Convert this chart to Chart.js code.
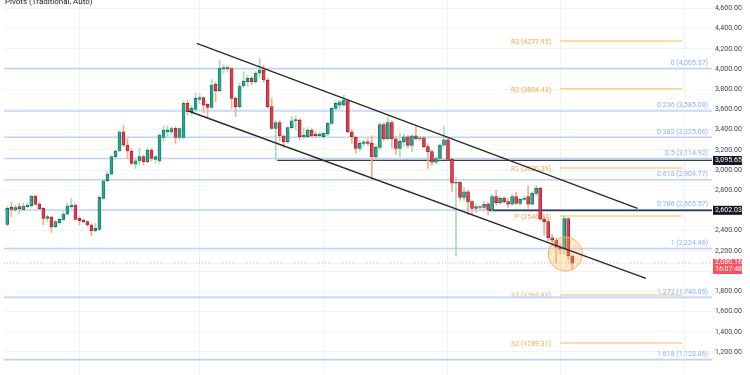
<!DOCTYPE html>
<html lang="en">
<head>
<meta charset="UTF-8" />
<title>Pivots (Traditional, Auto)</title>
<script src="https://cdn.jsdelivr.net/npm/chart.js"></script>
<style>
  html, body { margin: 0; padding: 0; background: #fff; }
  #wrap { width: 750px; height: 375px; position: relative; }
</style>
</head>
<body>
<div id="wrap"><canvas id="chart"></canvas></div>
<script>
// daily candles, index 0 = first bar on the left
const opens = [2463,2631,2605,2638,2605,2638,2645,2744,2664,2621,2523,2532,2440,2480,2506,2565,2638,2655,2523,2506,
  2490,2457,2400,2414,2720,2895,2961,3133,3189,3380,3248,3189,3060,3090,3133,3084,3199,3107,3090,3324,
  3380,3377,3413,3324,3324,3661,3578,3602,3700,3717,3651,3621,3849,3786,4000,4014,4005,3710,3628,3833,
  3875,3908,3875,3960,3991,3892,3628,3413,3470,3338,3281,3420,3490,3496,3330,3331,3397,3358,3338,3331,
  3358,3463,3611,3644,3644,3687,3380,3324,3216,3265,3281,3265,3133,3225,3450,3310,3470,3310,3215,3280,
  3330,3245,3340,3310,3320,3232,3183,3078,3115,3248,3300,3107,2870,2880,2730,2786,2688,2622,2638,2630,
  2664,2605,2737,2678,2720,2688,2664,2737,2671,2710,2737,2664,2770,2819,2515,2490,2330,2307,2237,2217,
  2520,2150];
const highs = [2640,2678,2655,2671,2671,2671,2753,2753,2678,2631,2556,2546,2500,2523,2588,2671,2720,2661,2539,2513,
  2500,2466,2473,2744,2909,2985,3140,3199,3390,3446,3314,3215,3116,3215,3149,3220,3215,3140,3360,3437,
  3440,3430,3430,3420,3680,3694,3640,3767,3760,3727,3660,3899,3870,4090,4040,4030,4018,3727,3859,3974,
  3940,3925,3980,4107,4040,3910,3710,3490,3490,3350,3430,3530,3535,3512,3420,3420,3410,3380,3375,3370,
  3470,3620,3677,3690,3743,3700,3400,3335,3290,3300,3310,3340,3250,3470,3470,3525,3490,3340,3364,3360,
  3345,3350,3430,3340,3335,3260,3200,3130,3260,3437,3320,3120,2925,2890,2825,2800,2700,2660,2650,2690,
  2680,2760,2800,2740,2740,2720,2760,2780,2720,2740,2845,2780,2850,2830,2550,2530,2365,2330,2275,2550,
  2525,2160];
const lows = [2447,2540,2588,2572,2598,2631,2638,2655,2612,2457,2490,2381,2433,2466,2500,2556,2621,2506,2457,2480,
  2440,2351,2390,2407,2711,2885,2951,3116,3183,3232,3116,3050,3017,3060,3050,3070,3090,3070,3070,3282,
  3338,3350,3265,3300,3310,3545,3545,3590,3660,3569,3512,3611,3677,3776,3960,3980,3611,3529,3611,3820,
  3830,3842,3860,3920,3870,3611,3404,3100,3290,3220,3260,3413,3397,3298,3310,3320,3330,3320,3320,3310,
  3340,3450,3595,3610,3630,3370,3265,3166,3190,3240,3245,2920,3100,3205,3290,3300,3216,3150,3133,3240,
  3220,3180,3300,3290,3220,3017,3050,3060,3100,3230,3100,2790,2150,2700,2700,2560,2560,2580,2600,2590,
  2560,2585,2650,2660,2670,2630,2650,2660,2650,2700,2620,2650,2750,2505,2357,2300,2250,2077,2170,2170,
  2110,2010];
const closes = [2621,2612,2628,2618,2645,2655,2744,2661,2618,2523,2539,2440,2490,2513,2565,2645,2655,2513,2500,2490,
  2457,2400,2423,2730,2895,2961,3133,3189,3380,3248,3189,3067,3093,3133,3084,3199,3116,3133,3348,3397,
  3400,3410,3324,3410,3661,3578,3612,3710,3717,3644,3621,3843,3786,4008,4014,4005,3710,3628,3833,3882,
  3908,3875,3960,3991,3892,3628,3413,3470,3338,3281,3420,3489,3500,3331,3345,3397,3338,3338,3358,3364,
  3463,3611,3661,3677,3694,3380,3331,3215,3265,3281,3265,3133,3225,3450,3310,3470,3310,3215,3285,3330,
  3245,3340,3310,3320,3232,3183,3078,3115,3248,3300,3107,2870,2880,2730,2786,2688,2622,2638,2630,2664,
  2605,2737,2678,2720,2688,2664,2737,2671,2710,2720,2664,2770,2819,2515,2490,2330,2307,2237,2217,2520,
  2150,2080.16];

const monthStarts = [18, 48, 79, 110, 138, 169];
const yTicks = [1200,1400,1600,1800,2000,2200,2400,2600,2800,3000,3200,3400,3600,3800,4000,4200,4400,4600];

const fibRatios = ['0','0.236','0.382','0.5','0.618','0.786','1','1.272','1.618'];
const fibLevels = [4005.37,3585.08,3325.06,3114.92,2904.77,2605.57,2224.46,1740.05,1123.86];

const pivotNames = ['R3','R2','R1','P','S1','S2'];
const pivotLevels = [4277.95,3804.43,3020.39,2546.87,1762.83,1289.31];
const pivotSpan = [138, 168.4];

const channelUpper = [{x:47.3,y:4255},{x:157.3,y:2622}];
const channelLower = [{x:45.2,y:3585},{x:159.4,y:1929}];

const rayLevels = [3095.65, 2602.03];
const rayStarts = [67.4, 120.2];

const lastPrice = 2080.16;
const lastTime = '16:07:48';
const circleMark = [{x:139.3, y:2169}];

const X_MIN = -0.82, X_MAX = 175.9, Y_MIN = 972, Y_MAX = 4684;

const fmt = v => v.toLocaleString('en-US', {minimumFractionDigits:2, maximumFractionDigits:2});
const idx = opens.map((_, i) => i);
const isUp = i => closes[i] >= opens[i];

const datasets = [];

fibLevels.forEach(lv => datasets.push({
  type:'line', data:[{x:X_MIN,y:lv},{x:X_MAX,y:lv}],
  borderColor:'#bcd4f8', borderWidth:1.6, pointRadius:0, order:20
}));
pivotLevels.forEach(lv => datasets.push({
  type:'line', data:[{x:pivotSpan[0],y:lv},{x:pivotSpan[1],y:lv}],
  borderColor:'#ffcf90', borderWidth:1.5, pointRadius:0, order:19
}));
datasets.push({
  type:'line', data:[{x:X_MIN,y:lastPrice},{x:X_MAX,y:lastPrice}],
  borderColor:'rgba(242,54,69,0.45)', borderWidth:1, borderDash:[1,2], pointRadius:0, order:18
});
rayLevels.forEach((lv, k) => datasets.push({
  type:'line', data:[{x:rayStarts[k],y:lv},{x:X_MAX,y:lv}],
  borderColor: k === 0 ? '#353c50' : '#2c3a5c', borderWidth: k === 0 ? 1.2 : 1.6, pointRadius:0, order:17
}));

// wicks
datasets.push({
  type:'bar', grouped:false, order:6,
  data: idx.map(i => ({x:i, y:[lows[i], highs[i]]})),
  backgroundColor: idx.map(i => isUp(i) ? '#a9dcae' : '#f7ad86'),
  barThickness:1, borderWidth:0
});
// bodies
datasets.push({
  type:'bar', grouped:false, order:5,
  data: idx.map(i => ({x:i, y:[opens[i], closes[i]]})),
  backgroundColor: idx.map(i => isUp(i) ? '#22ab94' : '#f23645'),
  borderColor: idx.map(i => isUp(i) ? '#1d5c52' : '#7d2630'),
  borderWidth:0.7, borderSkipped:false, barThickness:3
});

datasets.push({
  type:'scatter', data: circleMark, pointRadius:17,
  backgroundColor:'rgba(255,183,77,0.3)', borderColor:'#f6b25e', borderWidth:1, order:3
});
datasets.push({type:'line', data:channelUpper, borderColor:'#2a2a2e', borderWidth:1.4, pointRadius:0, order:1});
datasets.push({type:'line', data:channelLower, borderColor:'#2a2a2e', borderWidth:1.4, pointRadius:0, order:1});

const FONT = 'Roboto, "DejaVu Sans", sans-serif';

const labelsPlugin = {
  id:'levelLabels',
  beforeDatasetsDraw(chart) {
    const {ctx, chartArea, scales:{x, y}} = chart;
    ctx.save();
    ctx.font = '7px ' + FONT;
    ctx.textAlign = 'right';
    ctx.textBaseline = 'middle';
    ctx.fillStyle = '#8ab0f2';
    fibLevels.forEach((lv, k) => {
      ctx.fillText(fibRatios[k] + ' (' + fmt(lv) + ')', chartArea.right - 4, y.getPixelForValue(lv) - 5.5);
    });
    ctx.fillStyle = '#f7a845';
    const px = x.getPixelForValue(pivotSpan[0]) - 9;
    pivotLevels.forEach((lv, k) => {
      ctx.fillText(pivotNames[k] + ' (' + lv.toFixed(2) + ')', px, y.getPixelForValue(lv) + 1);
    });
    ctx.restore();
  },
  afterDraw(chart) {
    const {ctx, chartArea, scales:{y}} = chart;
    ctx.save();
    ctx.font = '8px ' + FONT;
    ctx.fillStyle = '#131722';
    ctx.textAlign = 'left';
    ctx.textBaseline = 'alphabetic';
    ctx.fillText('Pivots (Traditional, Auto)', 5, 4);

    const bx = chartArea.right + 1;
    ctx.font = '7px ' + FONT;
    rayLevels.forEach(lv => {
      const py = y.getPixelForValue(lv);
      ctx.fillStyle = '#131722';
      ctx.fillRect(bx, py - 4.5, 29, 9);
      ctx.fillStyle = '#ffffff';
      ctx.textBaseline = 'middle';
      ctx.fillText(fmt(lv), bx + 2, py);
    });
    const py = y.getPixelForValue(lastPrice);
    ctx.fillStyle = '#f7525f';
    ctx.fillRect(bx, py - 4, 29, 15);
    ctx.fillStyle = '#ffffff';
    ctx.fillText(fmt(lastPrice), bx + 2, py - 0.5);
    ctx.fillText(lastTime, bx + 2, py + 6.5);
    ctx.restore();
  }
};

new Chart(document.getElementById('chart'), {
  type:'bar',
  data:{ datasets },
  options:{
    responsive:true, maintainAspectRatio:false, animation:false,
    layout:{ autoPadding:false, padding:{ left:4, top:0, right:0, bottom:0 } },
    plugins:{ legend:{display:false}, tooltip:{enabled:false} },
    scales:{
      x:{
        type:'linear', min:X_MIN, max:X_MAX, offset:false,
        afterBuildTicks: s => { s.ticks = monthStarts.map(v => ({value:v})); },
        afterFit: s => { s.height = 0; s.paddingLeft = 0; s.paddingRight = 0; },
        ticks:{ display:false },
        grid:{ color:'#eef1f6', drawTicks:false, offset:false },
        border:{ display:false }
      },
      y:{
        position:'right', min:Y_MIN, max:Y_MAX,
        afterBuildTicks: s => { s.ticks = yTicks.map(v => ({value:v})); },
        afterFit: s => { s.width = 38; s.paddingTop = 0; s.paddingBottom = 0; },
        ticks:{
          font:{ size:7, family:FONT }, color:'#3b3f4a', padding:3,
          crossAlign:'near', callback: v => fmt(v)
        },
        grid:{ color:'#f1f3f7', drawTicks:false },
        border:{ display:false }
      }
    }
  },
  plugins:[labelsPlugin]
});
</script>
</body>
</html>
